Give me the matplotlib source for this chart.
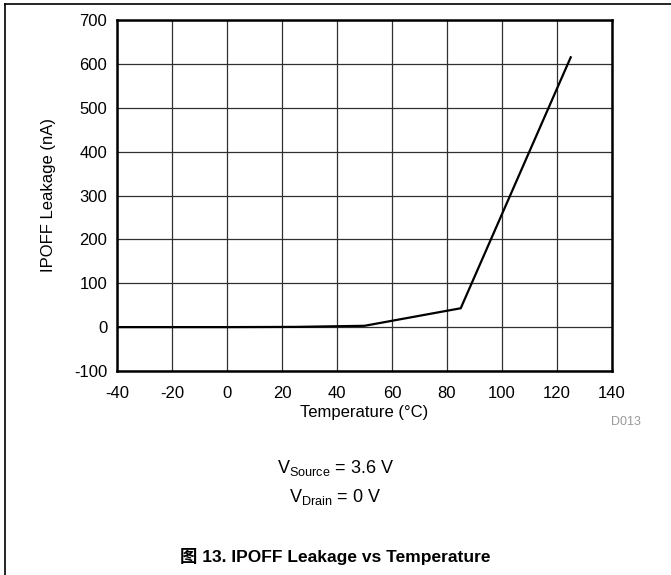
import matplotlib
matplotlib.use("Agg")
import matplotlib.pyplot as plt
from matplotlib.lines import Line2D

plt.rcParams['font.family'] = ['Liberation Sans', 'Noto Sans CJK SC', 'DejaVu Sans']
plt.rcParams['mathtext.fontset'] = 'custom'
plt.rcParams['mathtext.rm'] = 'Liberation Sans'

# Data
temperature = [-40, 0, 25, 50, 85, 125]       # degC
leakage = [0, 0, 0.5, 3, 43, 615]             # nA

x_ticks = [-40, -20, 0, 20, 40, 60, 80, 100, 120, 140]
y_ticks = [-100, 0, 100, 200, 300, 400, 500, 600, 700]

fig = plt.figure(figsize=(6.71, 5.75), dpi=100)
ax = fig.add_axes([0.1744, 0.3548, 0.7376, 0.6104])

ax.plot(temperature, leakage, color='black', lw=1.6, solid_joinstyle='miter')

ax.set_xlim(-40, 140)
ax.set_ylim(-100, 700)
ax.set_xticks(x_ticks)
ax.set_yticks(y_ticks)
ax.set_xticklabels([str(v) for v in x_ticks])
ax.set_yticklabels([str(v) for v in y_ticks])
ax.tick_params(length=0, labelsize=12, colors='black')
ax.tick_params(axis='x', pad=11)
ax.tick_params(axis='y', pad=7)
ax.grid(True, color='#303030', lw=0.9)
ax.set_axisbelow(True)
for sp in ax.spines.values():
    sp.set_linewidth(1.8)

ax.set_xlabel('Temperature (°C)', fontsize=12, labelpad=3)
ax.set_ylabel('IPOFF Leakage (nA)', fontsize=12, labelpad=13)

# notes below the chart
fig.text(0.933, 0.266, 'D013', fontsize=9, color='#999999', ha='center', va='center')
fig.text(0.5, 0.186, r'V$_{\mathregular{Source}}$ = 3.6 V', fontsize=13, ha='center', va='center')
fig.text(0.5, 0.136, r'V$_{\mathregular{Drain}}$ = 0 V', fontsize=13, ha='center', va='center')
fig.text(0.5, 0.033, '图 13. IPOFF Leakage vs Temperature', fontsize=12.5,
         fontweight='bold', ha='center', va='center')

# frame lines (top and left) of the page box
fig.add_artist(Line2D([0.0075, 0.0075], [0, 0.993], color='black', lw=1.2,
                      transform=fig.transFigure))
fig.add_artist(Line2D([0.0075, 1.0], [0.993, 0.993], color='black', lw=1.2,
                      transform=fig.transFigure))

fig.savefig('out.png', dpi=100)
